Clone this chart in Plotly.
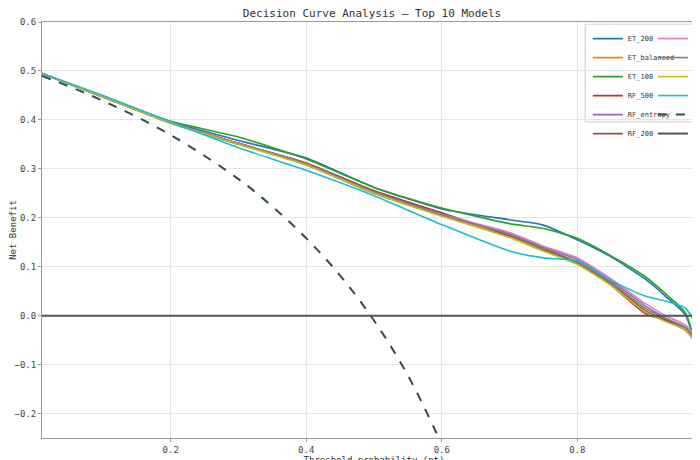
import plotly.graph_objects as go

# thresholds and net benefit
pts = [0.01, 0.1, 0.2, 0.3, 0.4, 0.5, 0.6, 0.7, 0.75, 0.8, 0.85, 0.9, 0.93, 0.96, 0.99]

ET_200      = [0.495, 0.448, 0.396, 0.358, 0.322, 0.262, 0.218, 0.196, 0.185, 0.155, 0.120, 0.075, 0.040, 0.000, -0.150]
ET_balanced = [0.495, 0.447, 0.394, 0.352, 0.310, 0.250, 0.205, 0.160, 0.132, 0.110, 0.068, 0.010, -0.010, -0.025, -0.085]
ET_100      = [0.495, 0.448, 0.397, 0.365, 0.320, 0.262, 0.220, 0.188, 0.178, 0.158, 0.122, 0.080, 0.045, 0.005, -0.160]
RF_500      = [0.495, 0.447, 0.394, 0.352, 0.312, 0.255, 0.210, 0.163, 0.138, 0.106, 0.062, 0.005, -0.010, -0.030, -0.075]
RF_entropy  = [0.495, 0.447, 0.393, 0.350, 0.308, 0.250, 0.205, 0.168, 0.140, 0.115, 0.072, 0.020, -0.005, -0.030, -0.085]
RF_200      = [0.495, 0.447, 0.394, 0.352, 0.311, 0.255, 0.208, 0.165, 0.135, 0.108, 0.065, 0.010, -0.008, -0.025, -0.080]
RF_100      = [0.495, 0.447, 0.394, 0.352, 0.310, 0.252, 0.207, 0.170, 0.142, 0.118, 0.075, 0.025, 0.000, -0.020, -0.070]
RF_gini     = [0.495, 0.447, 0.394, 0.351, 0.310, 0.252, 0.206, 0.166, 0.138, 0.110, 0.068, 0.015, -0.005, -0.025, -0.080]
RF_balanced = [0.495, 0.447, 0.394, 0.350, 0.308, 0.250, 0.203, 0.160, 0.132, 0.105, 0.062, 0.008, -0.012, -0.030, -0.085]
Bagging_50  = [0.495, 0.450, 0.396, 0.343, 0.297, 0.245, 0.186, 0.132, 0.118, 0.112, 0.072, 0.040, 0.030, 0.015, -0.060]

ta_pts  = [0.01, 0.1, 0.2, 0.3, 0.35, 0.4, 0.45, 0.5, 0.55, 0.6]
treat_all = [0.490, 0.439, 0.369, 0.279, 0.223, 0.158, 0.082, -0.010, -0.122, -0.263]

names = ["ET_200", "ET_balanced", "ET_100", "RF_500", "RF_entropy",
         "RF_200", "RF_100", "RF_gini", "RF_balanced", "Bagging_50"]
series = [ET_200, ET_balanced, ET_100, RF_500, RF_entropy,
          RF_200, RF_100, RF_gini, RF_balanced, Bagging_50]
colors = ["#1f77b4", "#ff7f0e", "#2ca02c", "#d62728", "#9467bd",
          "#8c564b", "#e377c2", "#7f7f7f", "#bcbd22", "#17becf"]

fig = go.Figure()
for i, (n, s, c) in enumerate(zip(names, series, colors)):
    fig.add_trace(go.Scatter(x=pts, y=s, name=n, mode="lines",
                             line=dict(color=c, width=1.6, shape="spline", smoothing=0.6),
                             legend="legend" if i < 6 else "legend2"))
fig.add_trace(go.Scatter(x=ta_pts, y=treat_all, name="Treat All", mode="lines",
                         line=dict(color="#2f4f4f", width=2, dash="dash", shape="spline"),
                         legend="legend2"))
fig.add_trace(go.Scatter(x=[0, 1], y=[0, 0], name="Treat None", mode="lines",
                         line=dict(color="#555555", width=2), legend="legend2"))

leg = dict(font=dict(size=7), bgcolor="rgba(0,0,0,0)", yanchor="top",
           tracegroupgap=0, itemwidth=30)
ax = dict(showgrid=True, gridcolor="#e5e5e5", showline=True, linecolor="#999",
          mirror=True, zeroline=False, ticks="outside", tickcolor="#999", ticklen=3,
          tickfont=dict(size=9, color="#444"))

fig.update_layout(
    width=700, height=460,
    margin=dict(l=34, r=2, t=14, b=30, autoexpand=False),
    plot_bgcolor="white", paper_bgcolor="white",
    font=dict(family="DejaVu Sans Mono", color="#333"),
    title=dict(text="Decision Curve Analysis — Top 10 Models", x=0.52, y=0.997,
               yanchor="top", font=dict(size=11)),
    xaxis=dict(ax, range=[0.01, 0.99], tickvals=[0.2, 0.4, 0.6, 0.8],
               title=dict(text="Threshold probability (pt)", font=dict(size=9), standoff=2)),
    yaxis=dict(ax, range=[-0.25, 0.6], dtick=0.1, tickformat=".1f",
               title=dict(text="Net Benefit", font=dict(size=9), standoff=4)),
    legend=dict(leg, x=0.822, y=0.995, xanchor="left"),
    legend2=dict(leg, x=0.92, y=0.995, xanchor="left"),
    shapes=[dict(type="rect", xref="paper", yref="paper", x0=0.818, x1=0.998,
                 y0=0.76, y1=0.995, line=dict(color="#ccc", width=1),
                 fillcolor="rgba(255,255,255,0.8)", layer="below")],
)

fig.write_html("out.html")
